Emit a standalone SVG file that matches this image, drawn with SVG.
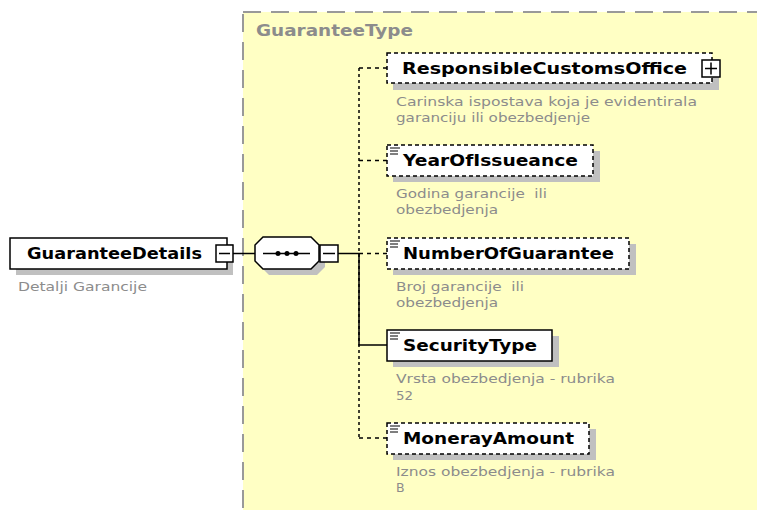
<svg xmlns="http://www.w3.org/2000/svg" width="757" height="510" viewBox="0 0 757 510">
<defs>
<style>
.name{font-family:"DejaVu Sans",Verdana,sans-serif;font-weight:bold;font-size:15.5px;fill:#000}
.title{font-family:"DejaVu Sans",Verdana,sans-serif;font-weight:bold;font-size:15px;fill:#8c8c8c}
.desc{font-family:"DejaVu Sans",Tahoma,sans-serif;font-size:12.5px;fill:#8c8c8c;white-space:pre}
.box{fill:#fff;stroke:#000;stroke-width:1.5}
.opt{stroke-dasharray:4 3}
.shadow{fill:#c0c0c0}
.conn{fill:none;stroke:#000;stroke-width:1.5}
.dash{stroke-dasharray:4 4}
.dot{stroke-dasharray:3 3}
.icon{fill:none;stroke:#000;stroke-width:1.2}
</style>
</defs>
<rect x="0" y="0" width="757" height="510" fill="#fff"/>

<g id="GuaranteeType">
<rect x="243" y="12" width="540" height="520" fill="#ffffc4" stroke="#999" stroke-width="2" stroke-dasharray="18 10"/>
<text class="title" x="256" y="36" textLength="157" lengthAdjust="spacingAndGlyphs">GuaranteeType</text>
</g>

<g id="connectors">
<path class="conn" d="M233 253.5H255"/>
<path class="conn" d="M338 253.5H359"/>
<path class="conn dot" d="M359 68V438"/>
<path class="conn" d="M359 253V345H387"/>
<path class="conn dash" d="M359 68H387"/>
<path class="conn dash" d="M359 160.5H387"/>
<path class="conn dash" d="M359 253.5H387"/>
<path class="conn dash" d="M359 438H387"/>
</g>

<g id="GuaranteeDetails">
<rect class="shadow" x="16" y="244" width="217" height="31"/>
<rect class="box" x="10" y="238" width="217" height="31"/>
<text class="name" x="27" y="259" textLength="175" lengthAdjust="spacingAndGlyphs">GuaranteeDetails</text>
<rect class="box" x="216" y="245" width="17" height="17"/>
<path class="conn" d="M219 253.5H230"/>
<text class="desc" x="18" y="291" textLength="129" lengthAdjust="spacingAndGlyphs">Detalji Garancije</text>
</g>

<g id="sequence">
<path class="shadow" d="M269 242H317L325 250V267L317 275H269L261 267V250Z"/>
<path class="box" d="M263 237H311L319 245V261L311 269H263L255 261V245Z"/>
<path class="conn" d="M263 253.5H310"/>
<circle cx="278" cy="253.5" r="2.5"/>
<circle cx="287" cy="253.5" r="2.5"/>
<circle cx="296" cy="253.5" r="2.5"/>
<rect class="box" x="320" y="245" width="18" height="17"/>
<path class="conn" d="M323 253.5H335"/>
</g>

<g id="ResponsibleCustomsOffice">
<rect class="shadow" x="393" y="59" width="326" height="31"/>
<rect class="box opt" x="387" y="53" width="325" height="30"/>
<text class="name" x="402" y="74" textLength="285" lengthAdjust="spacingAndGlyphs">ResponsibleCustomsOffice</text>
<rect class="box" x="702" y="60" width="18" height="17"/>
<path class="conn" d="M705 68.5H717M711 62.5V74.5"/>
<text class="desc" x="396" y="106" textLength="301" lengthAdjust="spacingAndGlyphs">Carinska ispostava koja je evidentirala</text>
<text class="desc" x="396" y="122" textLength="194" lengthAdjust="spacingAndGlyphs">garanciju ili obezbedjenje</text>
</g>

<g id="YearOfIssueance">
<rect class="shadow" x="393" y="151" width="207" height="31"/>
<rect class="box opt" x="387" y="145" width="206" height="31"/>
<path class="icon" d="M390 148H400M390 151H398M390 154H398"/>
<text class="name" x="403" y="166" textLength="175" lengthAdjust="spacingAndGlyphs">YearOfIssueance</text>
<text class="desc" x="396" y="198" textLength="151" lengthAdjust="spacingAndGlyphs" xml:space="preserve">Godina garancije  ili</text>
<text class="desc" x="396" y="214" textLength="102" lengthAdjust="spacingAndGlyphs">obezbedjenja</text>
</g>

<g id="NumberOfGuarantee">
<rect class="shadow" x="393" y="244" width="243" height="31"/>
<rect class="box opt" x="387" y="238" width="242" height="31"/>
<path class="icon" d="M390 241H400M390 244H398M390 247H398"/>
<text class="name" x="403" y="259" textLength="211" lengthAdjust="spacingAndGlyphs">NumberOfGuarantee</text>
<text class="desc" x="396" y="291" textLength="128" lengthAdjust="spacingAndGlyphs" xml:space="preserve">Broj garancije  ili</text>
<text class="desc" x="396" y="307" textLength="102" lengthAdjust="spacingAndGlyphs">obezbedjenja</text>
</g>

<g id="SecurityType">
<rect class="shadow" x="393" y="336" width="166" height="31"/>
<rect class="box" x="387" y="330" width="165" height="31"/>
<path class="icon" d="M390 333H400M390 336H398M390 339H398"/>
<text class="name" x="403" y="351" textLength="134" lengthAdjust="spacingAndGlyphs">SecurityType</text>
<text class="desc" x="396" y="383" textLength="219" lengthAdjust="spacingAndGlyphs">Vrsta obezbedjenja - rubrika</text>
<text class="desc" x="396" y="400" textLength="17" lengthAdjust="spacingAndGlyphs">52</text>
</g>

<g id="MonerayAmount">
<rect class="shadow" x="393" y="429" width="203" height="31"/>
<rect class="box opt" x="387" y="423" width="202" height="31"/>
<path class="icon" d="M390 426H400M390 429H398M390 432H398"/>
<text class="name" x="403" y="444" textLength="171" lengthAdjust="spacingAndGlyphs">MonerayAmount</text>
<text class="desc" x="396" y="476" textLength="219" lengthAdjust="spacingAndGlyphs">Iznos obezbedjenja - rubrika</text>
<text class="desc" x="396" y="492">B</text>
</g>
</svg>
